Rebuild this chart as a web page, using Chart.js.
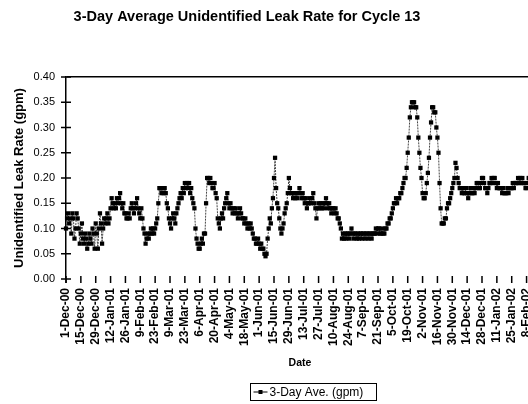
<!DOCTYPE html>
<html><head><meta charset="utf-8">
<script src="https://cdn.jsdelivr.net/npm/chart.js@4.4.1/dist/chart.umd.min.js"></script>
<style>
html,body{margin:0;padding:0;background:#fff;overflow:hidden;width:528px;height:404px;}
#wrap{position:absolute;left:0;top:0;width:560px;height:404px;}
canvas{display:block;}
</style></head><body>
<div id="wrap"><canvas id="c" width="560" height="404"></canvas></div>
<script>
const chartTitle = '3-Day Average Unidentified Leak Rate for Cycle 13';
const yAxisTitle = 'Unidentified Leak Rate (gpm)';
const xAxisTitle = 'Date';
const seriesName = '3-Day Ave. (gpm)';
// x tick labels, one every 14 days starting 1-Dec-00
const tickLabels = ['1-Dec-00','15-Dec-00','29-Dec-00','12-Jan-01','26-Jan-01','9-Feb-01','23-Feb-01','9-Mar-01','23-Mar-01','6-Apr-01','20-Apr-01','4-May-01','18-May-01','1-Jun-01','15-Jun-01','29-Jun-01','13-Jul-01','27-Jul-01','10-Aug-01','24-Aug-01','7-Sep-01','21-Sep-01','5-Oct-01','19-Oct-01','2-Nov-01','16-Nov-01','30-Nov-01','14-Dec-01','28-Dec-01','11-Jan-02','25-Jan-02','8-Feb-02'];
const tickStepDays = 14;
const yTickValues = [0,0.05,0.10,0.15,0.20,0.25,0.30,0.35,0.40];
// daily 3-day average leak rate (gpm), day 0 = 1-Dec-00
const leakRate = [
0.10,0.12,0.13,0.11,0.12,0.09,0.13,0.12,0.08,0.10,0.13,0.12,0.10,0.07,
0.09,0.11,0.08,0.07,0.09,0.08,0.06,0.07,0.09,
0.08,0.07,0.10,0.09,0.06,0.11,0.09,0.06,0.10,0.13,
0.11,0.07,0.10,0.12,0.11,0.12,0.13,0.11,0.12,
0.14,0.16,0.15,0.14,0.15,0.14,0.16,0.15,0.16,0.17,0.15,0.14,0.15,
0.13,0.13,0.12,0.12,0.13,0.12,
0.14,0.15,0.14,0.13,0.14,0.15,0.16,
0.14,0.13,0.12,0.14,0.12,
0.10,0.09,0.07,0.08,0.09,0.08,0.09,0.10,0.09,0.10,0.09,0.10,0.11,0.12,
0.15,0.18,0.18,0.17,0.18,0.17,0.18,0.17,0.15,
0.14,0.12,0.11,0.10,0.12,0.13,0.12,0.11,
0.13,0.14,0.15,0.16,0.17,0.16,0.18,0.17,0.19,
0.18,0.19,0.18,0.19,0.17,0.18,0.16,0.15,
0.14,0.10,0.08,0.07,0.06,0.06,
0.07,0.08,0.07,0.09,0.09,0.15,0.20,0.20,0.19,0.20,
0.19,0.18,0.18,0.19,0.17,0.16,0.12,0.11,0.10,0.12,
0.13,0.12,0.14,0.15,0.16,0.17,0.15,0.14,0.15,0.14,
0.13,0.14,0.13,0.14,0.13,0.12,0.13,0.14,0.13,0.12,
0.12,0.11,0.12,0.11,0.10,0.11,0.10,0.11,0.10,0.09,
0.08,0.08,0.07,0.07,0.08,0.07,0.06,0.07,0.06,0.06,
0.05,0.045,0.05,0.08,0.10,0.12,0.11,0.14,0.16,0.20,
0.24,0.18,0.15,0.14,0.12,0.10,0.09,0.10,0.11,0.13,
0.14,0.15,0.17,0.20,0.18,0.17,0.17,0.16,0.17,0.16,
0.17,0.16,0.17,0.18,0.17,0.16,0.17,0.16,0.15,0.16,
0.14,0.15,0.15,0.16,0.15,0.16,0.17,0.15,0.14,0.12,
0.14,0.15,0.14,0.15,0.14,0.15,0.14,0.15,0.16,0.15,
0.14,0.15,0.14,0.13,0.14,0.14,0.13,0.14,0.13,0.12,
0.12,0.11,0.10,0.08,0.09,0.08,0.09,0.08,0.09,0.09,
0.08,0.09,0.10,0.09,0.08,0.09,0.09,0.08,0.09,0.08,
0.09,0.09,0.08,0.09,0.09,0.08,0.09,0.09,0.08,0.09,
0.09,0.08,0.09,0.09,0.09,0.10,0.09,0.10,0.10,0.09,
0.09,0.10,0.09,0.09,0.10,0.10,0.11,0.11,0.12,0.12,
0.13,0.14,0.15,0.15,0.16,0.15,0.16,0.16,0.17,0.17,
0.18,0.19,0.20,0.20,0.22,0.25,0.28,0.32,0.34,0.35,
0.35,0.35,0.34,0.34,0.32,0.28,0.25,0.22,0.20,0.17,
0.16,0.16,0.17,0.19,0.21,0.24,0.28,0.31,0.34,0.34,
0.33,0.33,0.30,0.28,0.25,0.19,0.14,0.11,0.11,0.11,
0.12,0.12,0.14,0.15,0.15,0.16,0.17,0.18,0.19,0.20,
0.23,0.22,0.20,0.19,0.18,0.18,0.17,0.18,0.17,0.17,
0.18,0.17,0.16,0.17,0.18,0.17,0.17,0.18,0.17,0.18,
0.19,0.19,0.18,0.18,0.19,0.20,0.20,0.19,0.18,0.18,
0.17,0.18,0.19,0.19,0.20,0.19,0.20,0.20,0.19,0.18,
0.19,0.18,0.18,0.18,0.17,0.18,0.17,0.17,0.17,0.18,
0.17,0.18,0.18,0.18,0.19,0.18,0.19,0.19,0.19,0.20,
0.19,0.20,0.19,0.20,0.19,0.19,0.18,0.18,0.19,0.20,
0.20,0.20
];

const FONT = "'Liberation Sans', Arial, sans-serif";

const decor = {
  id: 'decor',
  afterDraw(chart) {
    const ctx = chart.ctx;
    const xs = chart.scales.x, ys = chart.scales.y;
    const area = chart.chartArea;
    ctx.save();
    ctx.strokeStyle = '#000';
    ctx.lineWidth = 1.5;
    ys.ticks.forEach(t => {
      const y = ys.getPixelForValue(t.value);
      ctx.beginPath(); ctx.moveTo(area.left - 5, y); ctx.lineTo(area.left + 5, y); ctx.stroke();
    });
    ctx.beginPath(); ctx.moveTo(area.left, area.bottom); ctx.lineTo(area.left, area.bottom + 4); ctx.stroke();
    xs.ticks.forEach(t => {
      const x = xs.getPixelForValue(t.value);
      ctx.beginPath(); ctx.moveTo(x, area.bottom - 3); ctx.lineTo(x, area.bottom + 4); ctx.stroke();
    });
    ctx.fillStyle = '#000';
    ctx.font = 'bold 14.5px ' + FONT;
    ctx.textAlign = 'center';
    ctx.textBaseline = 'alphabetic';
    ctx.fillText(chartTitle, 247, 21);
    const lx = 250.5, ly = 383.5, lw = 126, lh = 17;
    ctx.lineWidth = 1;
    ctx.strokeRect(lx, ly, lw, lh);
    const my = ly + lh / 2;
    ctx.beginPath(); ctx.moveTo(lx + 3, my); ctx.lineTo(lx + 17, my); ctx.stroke();
    ctx.fillRect(lx + 8, my - 2, 4, 4);
    ctx.font = '12px ' + FONT;
    ctx.textAlign = 'left';
    ctx.textBaseline = 'middle';
    ctx.fillText(seriesName, lx + 19, my + 0.5);
    ctx.restore();
  }
};

new Chart(document.getElementById('c'), {
  type: 'line',
  data: {
    datasets: [{
      label: seriesName,
      data: leakRate.map((v, i) => ({x: i, y: v})),
      borderColor: '#444',
      borderWidth: 1,
      borderDash: [2, 1],
      pointStyle: 'rect',
      pointRadius: 3,
      pointBackgroundColor: '#000',
      pointBorderColor: '#000',
      pointBorderWidth: 0,
      tension: 0,
      clip: false
    }]
  },
  options: {
    responsive: false,
    animation: false,
    devicePixelRatio: 1,
    layout: {padding: {left: 0, right: 26, top: 77, bottom: 30}},
    plugins: {legend: {display: false}, title: {display: false}, tooltip: {enabled: false}},
    scales: {
      x: {
        type: 'linear', min: 0, max: 441,
        afterBuildTicks: s => { s.ticks = tickLabels.map((_, i) => ({value: i * tickStepDays})); },
        afterFit: s => { s.height = 95; },
        ticks: {
          autoSkip: false, maxRotation: 90, minRotation: 90, padding: 9, color: '#000',
          font: {family: FONT, size: 12, weight: 'bold'},
          callback: v => tickLabels[Math.round(v / tickStepDays)]
        },
        grid: {display: false, drawTicks: false},
        border: {display: false},
        title: {display: true, text: xAxisTitle, color: '#000', font: {family: FONT, size: 10.5, weight: 'bold'}, padding: {top: 0, bottom: 5}}
      },
      y: {
        min: 0, max: 0.4,
        afterBuildTicks: s => { s.ticks = yTickValues.map(v => ({value: v})); },
        afterFit: s => { s.width = 66; },
        ticks: {padding: 11, color: '#000', font: {family: FONT, size: 11}, callback: v => Number(v).toFixed(2)},
        grid: {drawTicks: false, lineWidth: 1.5, color: c => (c.tick && Math.abs(c.tick.value - 0.4) < 1e-9) ? '#000' : 'rgba(0,0,0,0)'},
        border: {display: true, color: '#000', width: 1.5},
        title: {display: true, text: yAxisTitle, color: '#000', font: {family: FONT, size: 13, weight: 'bold'}, padding: {top: 12, bottom: 0}}
      }
    }
  },
  plugins: [decor]
});
</script>
</body></html>
